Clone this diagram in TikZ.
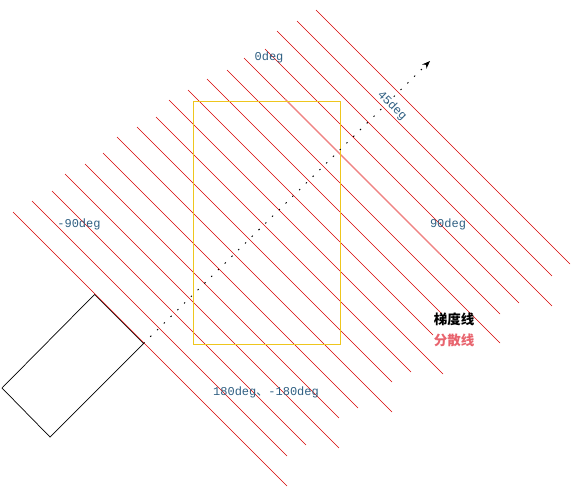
\documentclass[tikz,border=0pt]{standalone}
\usepackage{fontspec}
\usetikzlibrary{arrows.meta}
\newfontfamily\labfont{Liberation Mono}
\newfontfamily\cjkfont{Noto Sans CJK SC}
\definecolor{labblue}{RGB}{47,95,130}
\definecolor{gradred}{RGB}{215,0,0}
\definecolor{pinkline}{RGB}{240,130,130}
\definecolor{frameyellow}{RGB}{238,198,30}
\definecolor{sanpink}{RGB}{232,100,110}
\tikzset{
  gradline/.style={draw=gradred, line width=0.65pt},
  deglabel/.style={text=labblue, font=\labfont\fontsize{12}{12}\selectfont, inner sep=0pt},
  cjklabel/.style={font=\cjkfont\bfseries\fontsize{13.5}{14}\selectfont, inner sep=0pt},
  blackbox/.style={draw=black, line width=0.7pt},
  yellowbox/.style={draw=frameyellow, line width=1pt},
  dirarrow/.style={draw=black, line width=0.9pt, dash pattern=on 1.5pt off 8pt, -{Stealth[length=8pt,width=6pt]}}
}
\begin{document}
\begin{tikzpicture}[x=1pt,y=-1pt]
\useasboundingbox (0,0) rectangle (575,495);
% parallel red lines y = x + c
\foreach \c/\a/\b in {-306/316/570, -276/297/552, -246/277/552, -216/265/519, -186/244/500, -157/227/500, -128/207/441, -98/188/433, -69/169/443, -39/156/411, -10/137/392, 20/117/392, 50/103/358, 79/85/339, 109/65/339, 139/52/306, 169/32/287, 199/13/287}
  \draw[gradline] ({\a},{\a+\c}) -- ({\b},{\b+\c});
% pink highlighted part
\draw[draw=pinkline, line width=1.3pt] (285,99) -- (440,254);
% yellow frame
\draw[yellowbox] (193.5,101.5) rectangle (340,344);
% black rectangle
\coordinate (rt) at (94.5,294.5);
\coordinate (rr) at (143.5,343.5);
\coordinate (rb) at (50,437);
\coordinate (rl) at (2,388);
\draw[blackbox] (rt) -- (rr) -- (rb) -- (rl) -- cycle;
% direction arrow
\coordinate (tip) at (430,61);
\draw[dirarrow] (rr) -- (tip);
% labels
\node[deglabel] (l0) at (269,57) {0deg};
\node[deglabel, rotate=-45] (l45) at (392,106) {45deg};
\node[deglabel] (lm90) at (79,224) {-90deg};
\node[deglabel] (l90) at (448,224) {90deg};
\node[deglabel] (l180) at (266,392) {180deg{\cjkfont 、}-180deg};
\node[cjklabel, text=black] (lgrad) at (454,319) {梯度线};
\node[cjklabel, text=sanpink] (ldiv) at (454,340) {分散线};
\end{tikzpicture}
\end{document}
